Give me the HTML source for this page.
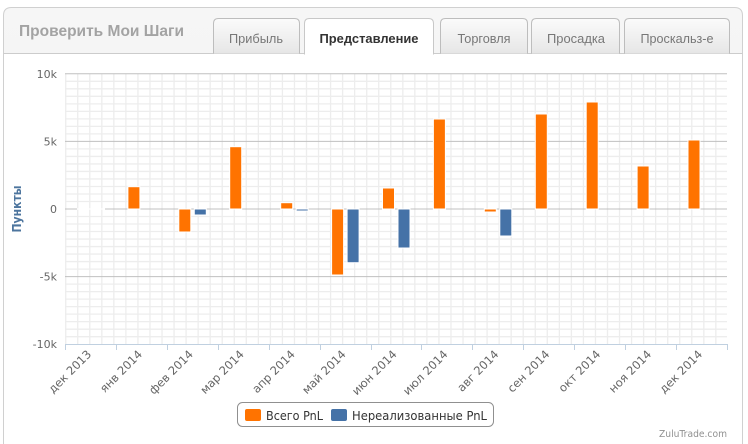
<!DOCTYPE html>
<html><head><meta charset="utf-8">
<style>
html,body{margin:0;padding:0;background:#fff;}
svg{display:block;}
</style></head>
<body>
<svg width="748" height="444" viewBox="0 0 748 444" xmlns="http://www.w3.org/2000/svg">
<defs>
<linearGradient id="hg" x1="0" y1="0" x2="0" y2="1">
<stop offset="0" stop-color="#f6f6f6"/><stop offset="1" stop-color="#ebebeb"/>
</linearGradient>
<linearGradient id="tg" x1="0" y1="0" x2="0" y2="1">
<stop offset="0" stop-color="#fbfbfb"/><stop offset="1" stop-color="#e6e6e6"/>
</linearGradient>
</defs>
<rect width="748" height="444" fill="#fff"/>
<!-- container -->
<path d="M3.5,450 L3.5,15.5 Q3.5,7.5 11.5,7.5 L734.5,7.5 Q742.5,7.5 742.5,15.5 L742.5,450" fill="url(#hg)" stroke="#d0d0d0"/>
<rect x="4" y="54" width="738" height="400" fill="#fff"/>
<line x1="3.5" y1="53.5" x2="742.5" y2="53.5" stroke="#cccccc"/>
<text x="19" y="36" font-family="Liberation Sans, sans-serif" font-weight="bold" font-size="16" fill="#a3a3a3" textLength="165" lengthAdjust="spacingAndGlyphs">Проверить Мои Шаги</text>
<!-- tabs -->
<g font-family="Liberation Sans, sans-serif" font-size="13" text-anchor="middle">
<path d="M213.5,53.5 L213.5,23.5 Q213.5,18.5 218.5,18.5 L294.5,18.5 Q299.5,18.5 299.5,23.5 L299.5,53.5" fill="url(#tg)" stroke="#bdbdbd"/>
<text x="256" y="43" fill="#777" textLength="54" lengthAdjust="spacingAndGlyphs">Прибыль</text>
<path d="M304.5,54.5 L304.5,23.5 Q304.5,18.5 309.5,18.5 L428.5,18.5 Q433.5,18.5 433.5,23.5 L433.5,54.5" fill="#fff" stroke="#c8c8c8"/>
<rect x="305" y="52" width="128" height="4" fill="#fff"/>
<text x="369" y="43" fill="#333" font-weight="bold" textLength="99" lengthAdjust="spacingAndGlyphs">Представление</text>
<path d="M440.5,53.5 L440.5,23.5 Q440.5,18.5 445.5,18.5 L522.5,18.5 Q527.5,18.5 527.5,23.5 L527.5,53.5" fill="url(#tg)" stroke="#bdbdbd"/>
<text x="484" y="43" fill="#777" textLength="53" lengthAdjust="spacingAndGlyphs">Торговля</text>
<path d="M531.5,53.5 L531.5,23.5 Q531.5,18.5 536.5,18.5 L614.5,18.5 Q619.5,18.5 619.5,23.5 L619.5,53.5" fill="url(#tg)" stroke="#bdbdbd"/>
<text x="576" y="43" fill="#777" textLength="58" lengthAdjust="spacingAndGlyphs">Просадка</text>
<path d="M624.5,53.5 L624.5,23.5 Q624.5,18.5 629.5,18.5 L724.5,18.5 Q729.5,18.5 729.5,23.5 L729.5,53.5" fill="url(#tg)" stroke="#bdbdbd"/>
<text x="677" y="43" fill="#777" textLength="73" lengthAdjust="spacingAndGlyphs">Проскальз-е</text>
</g>
<!-- minor grid -->
<g stroke="#ededed" stroke-width="1.3" id="minor"></g>
<!-- major grid -->
<g stroke="#c0c0c0" stroke-width="1">
<line x1="65" y1="73.8" x2="727" y2="73.8"/>
<line x1="65" y1="141.4" x2="727" y2="141.4"/>
<line x1="65" y1="209" x2="727" y2="209"/>
<line x1="65" y1="276.6" x2="727" y2="276.6"/>
</g>
<!-- x axis -->
<line x1="65" y1="344.5" x2="727" y2="344.5" stroke="#c0d0e0"/>
<g id="xticks" stroke="#c0d0e0"></g>
<!-- y labels -->
<g font-family="DejaVu Sans, sans-serif" font-size="11" fill="#666" text-anchor="end">
<text x="57" y="78">10k</text>
<text x="57" y="145.5">5k</text>
<text x="57" y="213">0</text>
<text x="57" y="280.5">-5k</text>
<text x="57" y="348">-10k</text>
</g>
<text transform="translate(21,209) rotate(-90)" text-anchor="middle" font-family="DejaVu Sans, sans-serif" font-weight="bold" font-size="12" fill="#4d759e" textLength="47" lengthAdjust="spacingAndGlyphs">Пункты</text>
<!-- bars -->
<g id="bars" stroke="#fff" stroke-width="1"></g>
<g id="xlabels" font-family="DejaVu Sans, sans-serif" font-size="11.5" fill="#666" text-anchor="end"></g>
<!-- legend -->
<rect x="237.5" y="402.5" width="256" height="24" rx="5" fill="#fff" stroke="#909090"/>
<rect x="245" y="409" width="16" height="12" rx="2" fill="#ff7300"/>
<rect x="331" y="409" width="16" height="12" rx="2" fill="#4572a7"/>
<g font-family="DejaVu Sans, sans-serif" font-size="12" fill="#333">
<text x="266" y="420" textLength="57" lengthAdjust="spacingAndGlyphs">Всего PnL</text>
<text x="352" y="420" textLength="135" lengthAdjust="spacingAndGlyphs">Нереализованные PnL</text>
</g>
<text x="727" y="437" text-anchor="end" font-family="DejaVu Sans, sans-serif" font-size="10" fill="#909090" textLength="68" lengthAdjust="spacingAndGlyphs">ZuluTrade.com</text>
</svg>
<script>
(function(){
var NS="http://www.w3.org/2000/svg";
function el(p,t,a){var e=document.createElementNS(NS,t);for(var k in a)e.setAttribute(k,a[k]);p.appendChild(e);return e;}
var minor=document.getElementById('minor');
for(var k=0;k<=36;k++){var y=73.8+7.511*k;if(Math.abs((k%9))===0)continue;el(minor,'line',{x1:65,x2:727,y1:y.toFixed(2),y2:y.toFixed(2)});}
for(var k=0;k<=54;k++){var x=65.7+12.04*k;el(minor,'line',{x1:x.toFixed(2),x2:x.toFixed(2),y1:73.8,y2:344});}
var xt=document.getElementById('xticks');
var w=662/13;
for(var i=0;i<=13;i++){var x=Math.round(65+w*i)+0.5;el(xt,'line',{x1:x,x2:x,y1:344,y2:350});}
var labels=["дек 2013","янв 2014","фев 2014","мар 2014","апр 2014","май 2014","июн 2014","июл 2014","авг 2014","сен 2014","окт 2014","ноя 2014","дек 2014"];
var xl=document.getElementById('xlabels');
for(var i=0;i<13;i++){var c=65+w*(i+0.5);var t=el(xl,'text',{transform:'translate('+(c+1.5).toFixed(1)+',355) rotate(-45)'});t.textContent=labels[i];}
var o=[0,22.3,-23,62.3,6.3,-66,21,90,-3,95,107,43,69];
var b=[0,0,-6,0,-2,-53.7,-39,0,-27,0,0,0,0];
var bars=document.getElementById('bars');
for(var i=0;i<13;i++){var c=65+w*(i+0.5);
 var h=o[i];
 if(h!==0){el(bars,'rect',{x:(c-13.5).toFixed(1),y:(h>0?209-h:209).toFixed(1),width:12,height:Math.abs(h).toFixed(1),fill:'#ff7300'});}
 var h2=b[i];
 if(h2!==0){el(bars,'rect',{x:(c+2).toFixed(1),y:(h2>0?209-h2:209).toFixed(1),width:12,height:Math.abs(h2).toFixed(1),fill:'#4572a7'});}
}
el(bars,'line',{x1:77,x2:105,y1:209,y2:209,stroke:'#fff','stroke-width':1.2});
})();
</script>
</body></html>
